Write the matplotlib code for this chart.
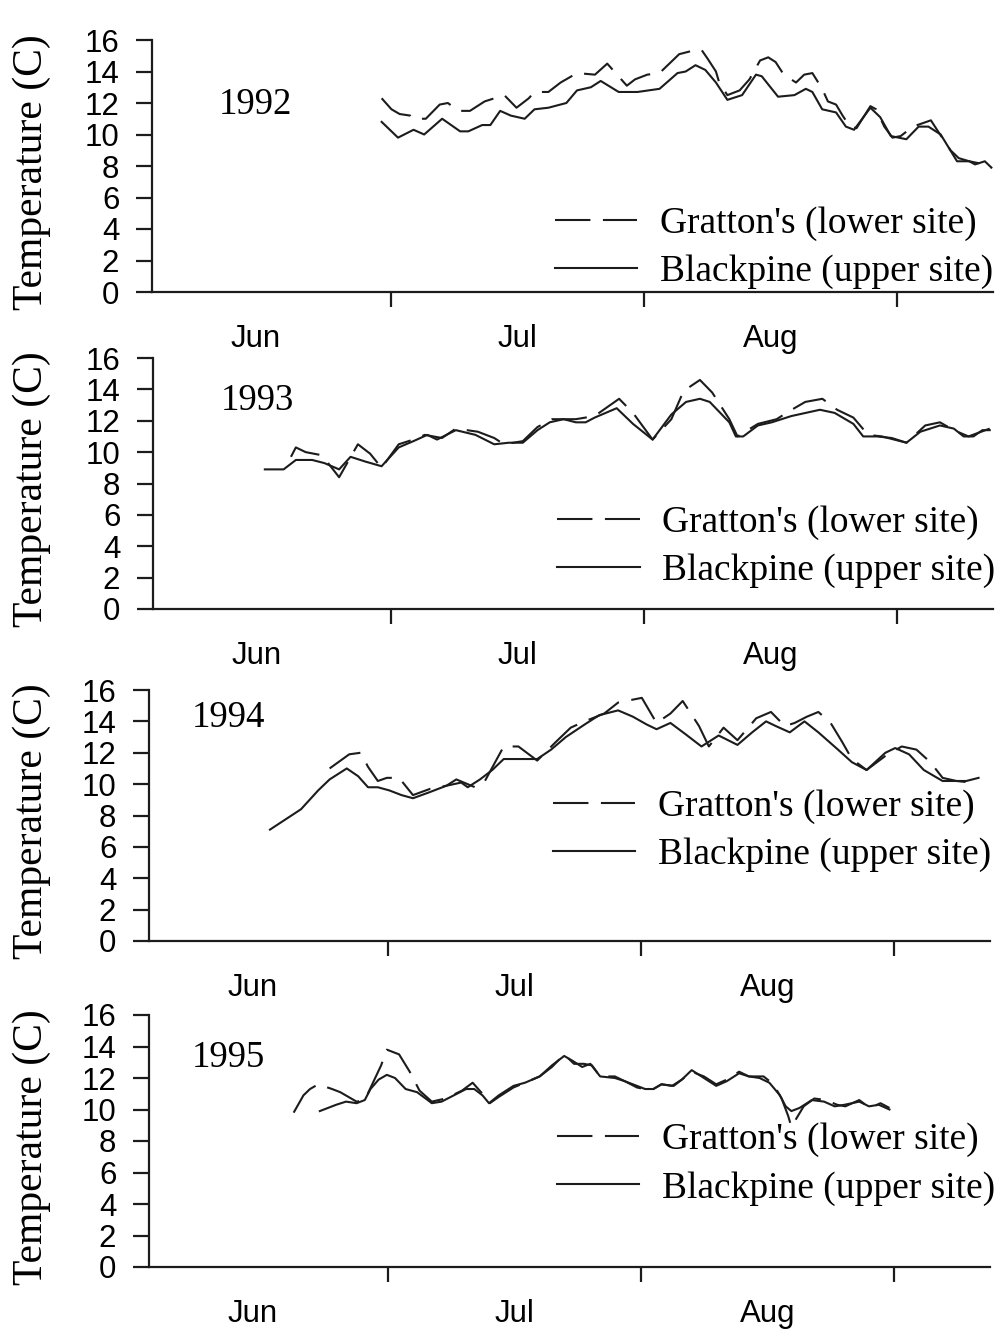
import matplotlib
matplotlib.use("Agg")
import matplotlib.pyplot as plt

# x values are days counted from 1 June; y values are water temperature (C)
years = [1992, 1993, 1994, 1995]

gr_day_1992 = [28.9, 30.1, 31.1, 32.4, 32.8, 34.3, 36.0, 37.0, 38.3, 39.7, 41.5, 42.7, 43.9, 45.4, 46.9, 47.6,
               49.3, 50.8, 52.8, 55.0, 56.5, 57.7, 58.9, 59.9, 61.4, 62.9, 64.1, 65.3, 66.8, 68.0, 68.8, 69.8,
               70.2, 71.2, 72.7, 73.9, 75.2, 76.2, 77.1, 78.1, 79.6, 80.6, 81.6, 82.8, 83.5, 84.5, 85.3, 86.2,
               87.0, 88.7, 89.4, 90.4, 91.4, 92.4, 93.9, 96.1, 97.1, 98.5, 99.5, 100.8, 102.7, 103.5]
gr_temp_1992 = [12.3, 11.6, 11.3, 11.2, 11.0, 11.0, 11.9, 12.0, 11.5, 11.5, 12.1, 12.3, 12.5, 11.7, 12.3, 12.7,
                12.7, 13.3, 13.9, 13.8, 14.5, 13.8, 13.1, 13.5, 13.8, 13.9, 14.5, 15.1, 15.3, 15.4, 14.8, 14.0,
                13.3, 12.5, 12.8, 13.5, 14.7, 14.9, 14.6, 13.8, 13.3, 13.8, 13.9, 12.9, 12.1, 11.9, 11.2, 10.5,
                10.4, 11.8, 11.6, 10.5, 9.8, 9.9, 10.5, 10.9, 10.1, 9.0, 8.5, 8.3, 8.1, 7.9]
bp_day_1992 = [28.9, 30.9, 32.8, 34.1, 36.3, 38.5, 39.5, 41.2, 42.2, 43.4, 44.7, 46.4, 47.6, 49.3, 51.5, 52.8,
               54.5, 55.7, 57.9, 60.2, 62.9, 65.1, 66.1, 67.3, 68.5, 69.8, 71.2, 73.0, 74.7, 75.4, 77.4, 79.4,
               80.8, 81.6, 82.8, 84.5, 85.7, 86.7, 88.7, 89.9, 91.2, 93.1, 94.6, 95.8, 97.3, 99.3, 100.8, 101.5,
               102.7, 103.5]
bp_temp_1992 = [10.8, 9.8, 10.3, 10.0, 11.0, 10.2, 10.2, 10.6, 10.6, 11.5, 11.2, 11.0, 11.6, 11.7, 12.0, 12.8,
                13.0, 13.4, 12.7, 12.7, 12.9, 13.9, 14.0, 14.4, 14.1, 13.3, 12.2, 12.5, 13.8, 13.7, 12.4, 12.5,
                12.9, 12.7, 11.6, 11.4, 10.5, 10.3, 11.7, 11.1, 9.9, 9.7, 10.5, 10.5, 10.0, 8.3, 8.3, 8.1,
                8.3, 7.9]

gr_day_1993 = [17.7, 18.3, 19.5, 21.5, 23.6, 25.9, 27.4, 28.8, 30.9, 32.7, 34.1, 36.2, 37.9, 40.6, 42.6, 43.8,
               46.1, 47.9, 49.7, 52.6, 54.9, 57.9, 59.6, 62.0, 64.3, 65.8, 67.8, 69.3, 71.4, 72.4, 74.9, 77.2,
               78.7, 80.7, 82.8, 84.6, 86.6, 88.4, 90.1, 93.1, 95.4, 97.2, 98.9, 100.7, 103.3]
gr_temp_1993 = [9.7, 10.3, 10.0, 9.8, 8.4, 10.5, 9.9, 9.0, 10.5, 10.8, 11.1, 10.9, 11.5, 11.3, 10.9, 10.5,
                10.7, 11.6, 12.1, 12.1, 12.3, 13.4, 12.5, 10.8, 12.1, 13.9, 14.6, 13.8, 12.1, 11.0, 11.8, 12.1,
                12.6, 13.2, 13.4, 12.7, 12.2, 11.1, 11.0, 10.6, 11.7, 11.9, 11.4, 11.0, 11.5]
bp_day_1993 = [14.5, 16.8, 18.3, 19.2, 20.3, 21.8, 23.6, 25.0, 26.8, 28.8, 30.9, 32.7, 34.4, 35.6, 37.9, 40.3,
               42.6, 44.4, 46.1, 47.9, 49.4, 51.1, 52.6, 53.8, 54.9, 57.6, 59.6, 62.0, 64.3, 66.1, 67.8, 69.0,
               71.4, 72.2, 73.1, 74.9, 76.6, 79.0, 82.5, 84.3, 86.6, 87.8, 89.5, 91.3, 93.1, 94.8, 97.2, 98.9,
               100.1, 101.3, 102.4, 103.3]
bp_temp_1993 = [8.9, 8.9, 9.5, 9.5, 9.5, 9.3, 8.9, 9.7, 9.4, 9.1, 10.3, 10.7, 11.1, 10.8, 11.4, 11.1,
                10.5, 10.6, 10.6, 11.4, 11.9, 12.1, 11.9, 11.9, 12.2, 12.8, 11.8, 10.8, 12.4, 13.2, 13.4, 13.2,
                11.9, 11.0, 11.0, 11.7, 11.9, 12.3, 12.7, 12.5, 11.8, 11.0, 11.0, 10.9, 10.6, 11.3, 11.7, 11.5,
                11.0, 11.0, 11.4, 11.4]

gr_day_1994 = [22.9, 25.3, 26.7, 27.6, 28.8, 29.9, 31.4, 33.1, 35.2, 37.2, 38.4, 40.7, 41.9, 44.2, 46.0, 48.3,
               50.6, 52.4, 54.1, 56.5, 58.2, 61.1, 62.9, 64.6, 66.1, 68.1, 69.3, 71.1, 72.8, 75.1, 76.9, 78.6,
               79.8, 81.3, 82.7, 84.2, 85.6, 86.8, 88.6, 90.9, 92.9, 94.7, 96.4, 97.9, 99.6, 101.4]
gr_temp_1994 = [11.0, 11.9, 12.0, 11.1, 10.2, 10.4, 10.4, 9.3, 9.7, 9.9, 10.3, 9.8, 10.2, 12.4, 12.4, 11.5,
                12.7, 13.6, 14.0, 14.5, 15.2, 15.5, 13.9, 14.5, 15.3, 13.7, 12.4, 13.6, 12.8, 14.2, 14.6, 13.7,
                13.9, 14.3, 14.6, 13.9, 12.7, 11.6, 10.9, 11.8, 12.4, 12.2, 11.4, 10.4, 10.2, 10.1]
bp_day_1994 = [15.6, 19.4, 21.5, 22.9, 25.0, 26.4, 27.6, 28.8, 30.2, 31.7, 33.1, 35.2, 37.2, 39.0, 39.8, 41.3,
               42.8, 44.2, 46.3, 48.3, 50.0, 51.8, 54.1, 55.9, 58.2, 60.0, 61.7, 62.9, 64.6, 66.4, 68.4, 70.5,
               72.8, 74.6, 76.3, 77.5, 79.2, 81.0, 82.7, 85.1, 86.8, 88.6, 90.9, 92.1, 93.8, 95.6, 97.9, 100.8,
               102.3]
bp_temp_1994 = [7.1, 8.4, 9.6, 10.3, 11.0, 10.5, 9.8, 9.8, 9.6, 9.3, 9.1, 9.5, 9.9, 10.1, 9.8, 10.3,
                10.9, 11.6, 11.6, 11.6, 12.2, 13.0, 13.8, 14.4, 14.7, 14.3, 13.8, 13.5, 13.9, 13.2, 12.4, 13.1,
                12.5, 13.3, 14.0, 13.7, 13.3, 14.0, 13.3, 12.2, 11.4, 10.9, 12.0, 12.3, 11.9, 10.9, 10.2, 10.2,
                10.4]

gr_day_1995 = [18.5, 19.7, 20.5, 21.5, 23.2, 24.2, 26.2, 27.2, 28.2, 29.2, 29.9, 31.4, 32.7, 33.9, 35.4, 37.1,
               39.1, 40.4, 41.6, 42.5, 43.6, 45.4, 46.8, 48.6, 50.1, 51.6, 52.8, 54.0, 55.0, 56.0, 57.8, 59.0,
               60.5, 62.2, 63.5, 64.8, 66.0, 67.2, 68.7, 70.2, 71.5, 73.0, 74.2, 76.0, 77.2, 78.2, 79.0, 79.4,
               80.9, 82.2, 83.6, 85.0, 86.0, 87.7, 89.0, 90.3, 91.4]
gr_temp_1995 = [9.8, 10.9, 11.3, 11.6, 11.3, 11.1, 10.5, 10.6, 11.7, 12.8, 13.8, 13.5, 12.4, 11.2, 10.5, 10.7,
                11.2, 11.7, 11.0, 10.4, 10.8, 11.4, 11.7, 12.1, 12.7, 13.5, 12.9, 12.9, 12.8, 12.1, 12.1, 11.8,
                11.4, 11.2, 11.6, 11.5, 11.9, 12.4, 12.1, 11.6, 11.9, 12.4, 12.1, 12.1, 11.6, 10.7, 9.6, 8.9,
                10.2, 10.7, 10.6, 10.3, 10.2, 10.6, 10.1, 10.4, 10.1]
bp_day_1995 = [21.7, 23.7, 24.9, 26.2, 27.2, 27.9, 28.9, 29.9, 30.9, 32.2, 33.6, 34.9, 35.4, 36.6, 38.1, 39.6,
               40.6, 41.6, 42.4, 43.6, 45.4, 46.8, 48.6, 50.1, 51.6, 52.6, 53.8, 54.8, 56.0, 57.8, 59.0, 60.5,
               61.5, 62.5, 63.5, 65.0, 66.0, 67.2, 68.7, 70.2, 71.5, 73.0, 74.2, 75.5, 76.7, 78.0, 78.7, 79.4,
               80.4, 81.9, 83.4, 84.7, 85.9, 87.7, 88.9, 90.1, 91.4]
bp_temp_1995 = [9.9, 10.3, 10.5, 10.4, 10.6, 11.3, 11.9, 12.2, 12.0, 11.3, 11.1, 10.6, 10.4, 10.5, 10.9, 11.3,
                11.3, 10.9, 10.4, 10.9, 11.5, 11.7, 12.1, 12.8, 13.4, 13.1, 12.7, 12.9, 12.1, 12.0, 11.8, 11.5,
                11.3, 11.3, 11.6, 11.5, 11.9, 12.5, 12.0, 11.5, 11.8, 12.3, 12.1, 12.0, 11.7, 10.9, 10.2, 9.9,
                10.1, 10.6, 10.5, 10.2, 10.3, 10.5, 10.2, 10.3, 10.0]

month_starts = [30, 61, 92]          # 1 Jul, 1 Aug, 1 Sep
month_mids = [13.5, 45.5, 76.5]
month_names = ["Jun", "Jul", "Aug"]
yticks = list(range(0, 17, 2))
labels = ["Gratton's (lower site)", "Blackpine (upper site)"]

panels = [
    (1992, gr_day_1992, gr_temp_1992, bp_day_1992, bp_temp_1992),
    (1993, gr_day_1993, gr_temp_1993, bp_day_1993, bp_temp_1993),
    (1994, gr_day_1994, gr_temp_1994, bp_day_1994, bp_temp_1994),
    (1995, gr_day_1995, gr_temp_1995, bp_day_1995, bp_temp_1995),
]

# axes boxes in pixels: left, top, right, bottom
boxes = [(152, 40, 993, 292), (153, 358, 993, 609), (149, 690, 990, 941), (149, 1015, 990, 1267)]
year_pos = [(13.4, 11.9), (13.6, 13.3), (10.5, 14.2), (10.5, 13.3)]
legend_pos = [(0.479, 0.176), (0.481, 0.247), (0.480, 0.440), (0.485, 0.408)]

W, H = 1002, 1334
SERIF = "Liberation Serif"
SANS = "Liberation Sans"
INK = "#1c1c1c"

fig = plt.figure(figsize=(W / 100, H / 100), dpi=100)

for (year, gd, gt, bd, bt), (l, t, r, b), ypos, lpos in zip(panels, boxes, year_pos, legend_pos):
    ax = fig.add_axes([l / W, 1 - b / H, (r - l) / W, (b - t) / H])
    ax.plot(gd, gt, color=INK, lw=1.5, linestyle=(0, (17, 6)), label=labels[0])
    ax.plot(bd, bt, color=INK, lw=1.5, label=labels[1])
    ax.set_xlim(0.8, 103.7)
    ax.set_ylim(0, 16)
    for side in ("top", "right"):
        ax.spines[side].set_visible(False)
    for side in ("left", "bottom"):
        ax.spines[side].set_linewidth(1.6)
        ax.spines[side].set_color(INK)

    ax.set_yticks(yticks)
    ax.tick_params(axis="y", length=11.5, width=1.6, pad=12, labelsize=22.5, color=INK)
    for lab in ax.get_yticklabels():
        lab.set_fontfamily(SANS)

    ax.set_xticks(month_starts)
    ax.set_xticklabels([])
    ax.set_xticks(month_mids, minor=True)
    ax.set_xticklabels(month_names, minor=True, fontfamily=SANS, fontsize=22.5)
    ax.tick_params(axis="x", which="major", length=11, width=1.6, color=INK)
    ax.tick_params(axis="x", which="minor", length=0, pad=23)

    ax.text(ypos[0], ypos[1], str(year), ha="center", va="center", fontsize=26.5, fontfamily=SERIF)

    ax.legend(loc="center left", bbox_to_anchor=lpos, frameon=False, borderpad=0, borderaxespad=0,
              handlelength=2.2, handletextpad=0.6, labelspacing=0.36,
              prop={"family": SERIF, "size": 27})

    yc = (t + b) / 2 + 6
    fig.text(32 / W, 1 - yc / H, "Temperature (C)", rotation=90, ha="center", va="center",
             fontsize=30, fontfamily=SERIF)

fig.savefig("out.png", dpi=100)
